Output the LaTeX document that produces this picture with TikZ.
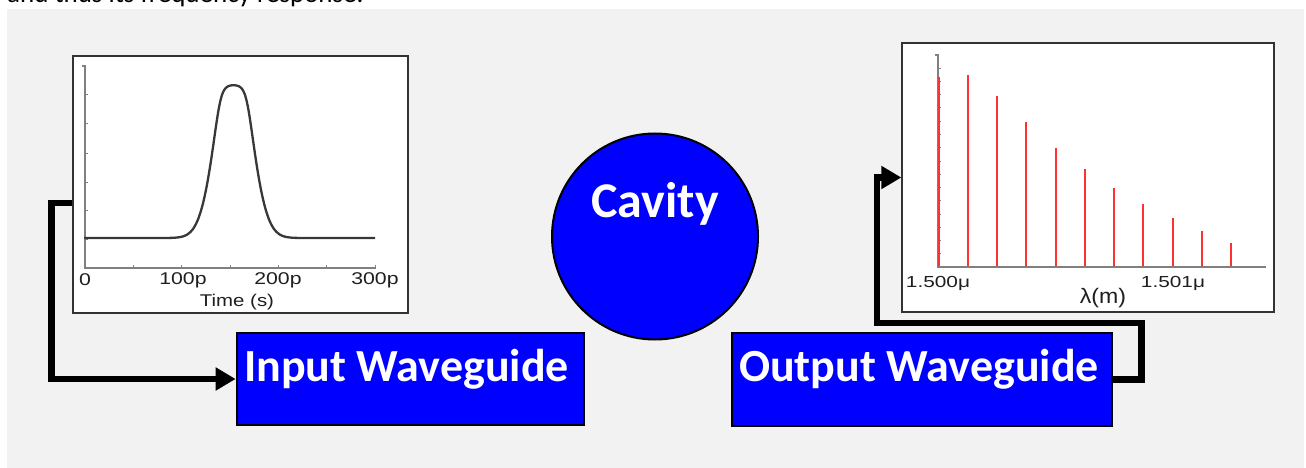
\documentclass[tikz,border=0pt]{standalone}
\usepackage{graphicx}
\usepackage{fontspec}
\setmainfont{Carlito}
\newfontfamily\axisfont{Liberation Sans}
\usetikzlibrary{arrows.meta,calc}

\definecolor{panel}{HTML}{F2F2F2}
\definecolor{wgblue}{RGB}{0,0,255}
\definecolor{framegrey}{HTML}{333333}
\definecolor{axisgrey}{HTML}{808080}
\definecolor{tracegrey}{HTML}{383838}
\definecolor{spikered}{HTML}{FF3030}

\begin{document}
\begin{tikzpicture}[x=1pt,y=-1pt,
  declare function={gg(\t)=1.3*exp(-((\t-233.5)/23)^2);
                    pulse(\t)=155*gg(\t)/(1+gg(\t)^8)^(0.125);},
  wg/.style={draw=black, line width=2.7pt, fill=wgblue, text=white, inner sep=0pt,
    font=\fontsize{46}{50}\selectfont\bfseries},
  cavity/.style={circle, draw=black, line width=2pt, fill=wgblue, text=white, inner sep=0pt,
    minimum size=206pt, text height=32pt, text depth=71pt,
    font=\fontsize{50}{54}\selectfont\bfseries},
  plotframe/.style={draw=framegrey, line width=1.3pt, fill=white, inner sep=0pt},
  axisline/.style={draw=axisgrey, line width=1.4pt},
  ticklbl/.style={inner sep=0pt, text=black!88, font=\axisfont\fontsize{17}{19}\selectfont},
  spike/.style={draw=spikered, line width=2.2pt},
  conn/.style={draw=black, line width=6.5pt, -{Triangle[length=20pt,width=22pt]}}]

\useasboundingbox (0,0) rectangle (1306,468);

% grey panel and the tail of the sentence above it
\fill[white] (0,0) rectangle (1306,468);
\fill[panel] (7,9) rectangle (1304,468);
\begin{scope}
  \clip (0,0) rectangle (1306,468);
  \node[anchor=base west, inner sep=0pt, font=\fontsize{27}{30}\selectfont] (caption) at (7,3)
    {and thus its frequency response.};
\end{scope}

% ---------- input pulse (time domain) ----------
\node[plotframe, minimum width=335pt, minimum height=257pt] (inplot) at (240.5,184.5) {};
\draw[axisline] (82,66) -- (85,66) -- (85,268) -- (376,268);
\foreach \y in {95,124,153,182,210,239}
  \draw[axisline, line width=1pt] (85,\y) -- (88,\y);
\foreach \x in {133.3,181.7,230,278.3,326.7,375}
  \draw[axisline, line width=1pt] (\x,268) -- (\x,265);
\draw[tracegrey, line width=2.3pt, line join=round]
  (84,238) -- (165,238)
  -- plot[domain=165:302, samples=180, smooth] (\x, {238-pulse(\x)})
  -- (375,238);
\node[ticklbl] (t0)   at (85,280)  {\scalebox{1.25}[1]{0}};
\node[ticklbl] (t100) at (183,280) {\scalebox{1.25}[1]{100p}};
\node[ticklbl] (t200) at (278,280) {\scalebox{1.25}[1]{200p}};
\node[ticklbl] (t300) at (375,280) {\scalebox{1.25}[1]{300p}};
\node[ticklbl] (tlab) at (237,302) {\scalebox{1.2}[1]{Time (s)}};

% ---------- output spectrum ----------
\node[plotframe, minimum width=372pt, minimum height=269pt] (outplot) at (1088,177.5) {};
\draw[axisline] (935,55) -- (938,55) -- (938,267) -- (1266,267);
\foreach \i in {1,...,15}
  \draw[axisline, line width=1pt] (938,{55+\i*13.25}) -- (941,{55+\i*13.25});
\foreach \x/\t in {939/76.7, 968/75, 997/95.7, 1026/122.3, 1056/147.7, 1085/169,
                   1114/187.7, 1143/204, 1173/218.3, 1202/230.7, 1231/242.7}
  \draw[spike] (\x,266) -- (\x,\t);
\node[ticklbl, font=\axisfont\fontsize{16}{18}\selectfont] (w0) at (938,283)  {\scalebox{1.3}[1]{1.500μ}};
\node[ticklbl, font=\axisfont\fontsize{16}{18}\selectfont] (w1) at (1173,283) {\scalebox{1.3}[1]{1.501μ}};
\node[ticklbl, font=\axisfont\fontsize{21}{23}\selectfont] (wlab) at (1103,298) {\scalebox{1.1}[1]{λ(m)}};

% ---------- blocks ----------
\node[cavity] (cav) at (655,236.5) {Cavity};
\node[wg, minimum width=347pt, minimum height=92pt, text height=48pt, text depth=44pt]
  (inwg) at (410.5,379) {Input Waveguide\kern8pt};
\node[wg, minimum width=380pt, minimum height=93pt, text height=48pt, text depth=45pt]
  (outwg) at (922,379.5) {Output Waveguide\kern6pt};

% ---------- connectors ----------
\coordinate (inturn) at ($(inplot.north west)!0.572!(inplot.south west)$);
\draw[conn] (inturn) -- ++(-21,0) |- (inwg.west);
\coordinate (obend) at (877,323);
\draw[conn] (outwg.east) -- ++(28,0) |- (obend) |- (outplot.west);

\end{tikzpicture}
\end{document}
